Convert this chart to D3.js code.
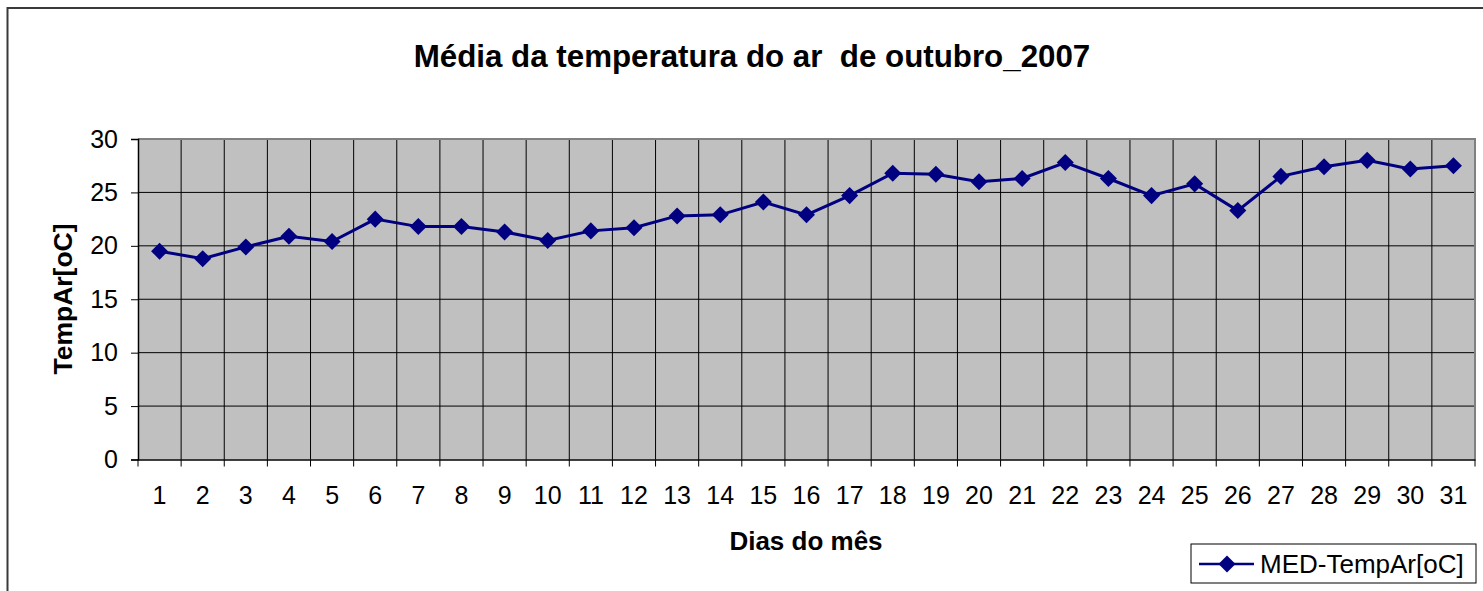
<!DOCTYPE html>
<html>
<head>
<meta charset="utf-8">
<script src="https://cdn.jsdelivr.net/npm/d3@7"></script>
<style>
  body { margin: 0; background: #fff; }
  svg { display: block; font-family: Arial, "Liberation Sans", sans-serif; }
</style>
</head>
<body>
<svg class="chart"></svg>
<script>
// DATA /////////////////////////////////
const days = d3.range(1, 32);
const temps = [19.5, 18.8, 19.9, 20.9, 20.4, 22.5, 21.8, 21.8, 21.3, 20.5,
  21.4, 21.7, 22.8, 22.9, 24.1, 22.9, 24.7, 26.8, 26.7, 26.0,
  26.3, 27.8, 26.3, 24.7, 25.8, 23.3, 26.5, 27.4, 28.0, 27.2, 27.5];
const yTicks = [0, 5, 10, 15, 20, 25, 30];
const seriesName = "MED-TempAr[oC]";

// DEFINITIONS /////////////////////////////////
const W = 1483, H = 591;
const plot = { left: 138, right: 1475, top: 139, bottom: 459.5 };

const svg = d3.select(".chart").attr("width", W).attr("height", H);

// outer frame, runs off the right and bottom
svg.append("rect")
  .attr("x", 7.5).attr("y", 8)
  .attr("width", W + 10).attr("height", H + 10)
  .attr("fill", "#fff").attr("stroke", "#3a3a3a").attr("stroke-width", 2);

const x = d3.scaleBand().domain(days).range([plot.left, plot.right]).padding(0);
const y = d3.scaleLinear().domain([0, 30]).range([plot.bottom, plot.top]);

// plot area
svg.append("rect")
  .attr("x", plot.left).attr("y", plot.top)
  .attr("width", plot.right - plot.left).attr("height", plot.bottom - plot.top)
  .attr("fill", "#c0c0c0");

// grid
const bounds = days.slice(1).map((d) => x(d));
svg.append("g").selectAll("line").data(bounds).join("line")
  .attr("x1", (d) => d).attr("x2", (d) => d)
  .attr("y1", plot.top).attr("y2", plot.bottom)
  .attr("stroke", "#000").attr("stroke-width", 1);
svg.append("g").selectAll("line").data(yTicks.slice(1, -1)).join("line")
  .attr("x1", plot.left).attr("x2", plot.right)
  .attr("y1", (d) => y(d)).attr("y2", (d) => y(d))
  .attr("stroke", "#000").attr("stroke-width", 1);

// plot border top/right (gray)
svg.append("path")
  .attr("d", `M${plot.left},${plot.top}H${plot.right}V${plot.bottom}`)
  .attr("fill", "none").attr("stroke", "#808080").attr("stroke-width", 2);

// AXES ////////////////////////////////
const yAxis = svg.append("g")
  .attr("transform", `translate(${plot.left},0)`)
  .call(d3.axisLeft(y).tickValues(yTicks).tickSize(7).tickPadding(13));
const xAxis = svg.append("g")
  .attr("transform", `translate(0,${plot.bottom})`)
  .call(d3.axisBottom(x).tickSize(0).tickPadding(27));
[yAxis, xAxis].forEach((g) => {
  g.selectAll("path.domain").attr("stroke", "#000").attr("stroke-width", 1.5);
  g.selectAll(".tick line").attr("stroke", "#000");
  g.selectAll("text").attr("fill", "#000").style("font-size", "25px")
    .style("font-family", "Arial, 'Liberation Sans', sans-serif");
});
// x ticks at category boundaries
const xBounds = [plot.left, ...bounds, plot.right];
svg.append("g").selectAll("line").data(xBounds).join("line")
  .attr("x1", (d) => d).attr("x2", (d) => d)
  .attr("y1", plot.bottom).attr("y2", plot.bottom + 7)
  .attr("stroke", "#000");

// SERIES ////////////////////////////////
const pts = days.map((d, i) => [x(d) + x.bandwidth() / 2, y(temps[i])]);
svg.append("path")
  .datum(pts)
  .attr("d", d3.line())
  .attr("fill", "none").attr("stroke", "#000080").attr("stroke-width", 3);
const diamond = d3.symbol().type(d3.symbolDiamond2).size(185);
svg.append("g").selectAll("path").data(pts).join("path")
  .attr("transform", (d) => `translate(${d[0]},${d[1]})`)
  .attr("d", diamond)
  .attr("fill", "#000080");

// TITLES ////////////////////////////////
svg.append("text")
  .attr("x", 752).attr("y", 67)
  .attr("text-anchor", "middle")
  .style("font-size", "31.3px").style("font-weight", "bold")
  .style("white-space", "pre")
  .text("Média da temperatura do ar  de outubro_2007");
svg.append("text")
  .attr("x", 806).attr("y", 550)
  .attr("text-anchor", "middle")
  .style("font-size", "26px").style("font-weight", "bold")
  .text("Dias do mês");
svg.append("text")
  .attr("transform", "translate(72,299) rotate(-90)")
  .attr("text-anchor", "middle")
  .style("font-size", "26.5px").style("font-weight", "bold")
  .text("TempAr[oC]");

// LEGEND ////////////////////////////////
const leg = svg.append("g").attr("transform", "translate(1191,544)");
leg.append("rect").attr("width", 285).attr("height", 39)
  .attr("fill", "#fff").attr("stroke", "#000").attr("stroke-width", 1);
leg.append("line").attr("x1", 8).attr("x2", 63).attr("y1", 20).attr("y2", 20)
  .attr("stroke", "#000080").attr("stroke-width", 2.5);
leg.append("path").attr("transform", "translate(36,20)").attr("d", diamond)
  .attr("fill", "#000080");
leg.append("text").attr("x", 69).attr("y", 29)
  .style("font-size", "26px").text(seriesName);
</script>
</body>
</html>
